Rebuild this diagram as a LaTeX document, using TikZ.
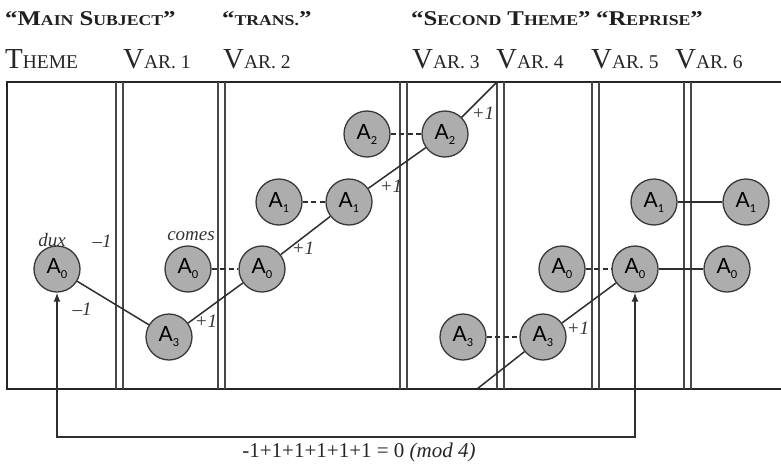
\documentclass[tikz,border=0pt]{standalone}
\usepackage{fontspec}
\setmainfont{Liberation Serif}
\newfontfamily\notefont{Lato}
\usetikzlibrary{arrows.meta}

% A pitch level inside a circle: letter A with a small index
\newcommand\pitch[1]{A\raisebox{-5pt}{\fontsize{11}{11}\selectfont #1}}
% Hand-made small capitals: large initial, smaller rest
\newcommand\headcap[2]{{\fontsize{21}{21}\selectfont #1}{\fontsize{15}{15}\selectfont #2}}
\newcommand\headquote[1]{\scalebox{1.18}[1]{\fontsize{21}{21}\selectfont “#1\fontsize{21}{21}\selectfont ”}}
\newcommand\rowcap[2]{{\fontsize{29}{29}\selectfont #1}{\fontsize{19.5}{19.5}\selectfont #2}}

\tikzset{
  x=1pt, y=-1pt,
  notecirc/.style={circle, draw=black!78, fill=black!32, line width=1.3pt,
    minimum size=46pt, inner sep=0pt, font=\notefont\fontsize{21}{21}\selectfont},
  linkline/.style={draw=black!82, line width=1.5pt},
  echoline/.style={linkline, dash pattern=on 5pt off 3.5pt},
  barline/.style={draw=black!72, line width=1.4pt},
  frameline/.style={draw=black!85, line width=2.8pt},
  steplabel/.style={font=\itshape\fontsize{19}{19}\selectfont, inner sep=0pt, text=black!80},
  sectionhead/.style={anchor=base west, inner sep=0pt, font=\bfseries, text=black!88},
  parthead/.style={anchor=base west, inner sep=0pt, text=black!85},
  loopback/.style={linkline, >={Latex[length=9pt, width=7pt]}, <->}
}

\begin{document}
\begin{tikzpicture}
\useasboundingbox (0,0) rectangle (781,466);

% section headings
\node[sectionhead] (hmain) at (5,25) {\headquote{\headcap{M}{AIN} \headcap{S}{UBJECT}}};
\node[sectionhead] (htrans) at (222,25) {\headquote{\headcap{}{TRANS.}}};
\node[sectionhead] (hsecond) at (411,25) {\headquote{\headcap{S}{ECOND} \headcap{T}{HEME}}};
\node[sectionhead] (hreprise) at (596,25) {\headquote{\headcap{R}{EPRISE}}};

% variation headings
\node[parthead] (ptheme) at (5,68) {\rowcap{T}{HEME}};
\node[parthead] (pv1) at (123,68) {\rowcap{V}{AR. 1}};
\node[parthead] (pv2) at (223,68) {\rowcap{V}{AR. 2}};
\node[parthead] (pv3) at (412,68) {\rowcap{V}{AR. 3}};
\node[parthead] (pv4) at (496,68) {\rowcap{V}{AR. 4}};
\node[parthead] (pv5) at (591,68) {\rowcap{V}{AR. 5}};
\node[parthead] (pv6) at (675,68) {\rowcap{V}{AR. 6}};

% frame: top, bottom and left border
\draw[frameline] (781,82) -- (7,82) -- (7,389) -- (781,389);

% double bars between variations
\foreach \bx in {116,218,400,497,592,684} {
  \draw[barline] (\bx,82) -- (\bx,389);
  \draw[barline] (\bx+7,82) -- (\bx+7,389);
}

% pitch circles
\node[notecirc] (dux) at (57,269) {\pitch{0}};
\node[notecirc] (a3) at (169,337) {\pitch{3}};
\node[notecirc] (c0) at (188,269) {\pitch{0}};
\node[notecirc] (b0) at (262,269) {\pitch{0}};
\node[notecirc] (b1l) at (279,202) {\pitch{1}};
\node[notecirc] (b1) at (349,202) {\pitch{1}};
\node[notecirc] (c2l) at (367,134) {\pitch{2}};
\node[notecirc] (c2) at (445,134) {\pitch{2}};
\node[notecirc] (d3l) at (463,337) {\pitch{3}};
\node[notecirc] (d3) at (543,337) {\pitch{3}};
\node[notecirc] (e0l) at (562,269) {\pitch{0}};
\node[notecirc] (e0) at (635,269) {\pitch{0}};
\node[notecirc] (f0) at (727,269) {\pitch{0}};
\node[notecirc] (e1) at (654,202) {\pitch{1}};
\node[notecirc] (f1) at (746,202) {\pitch{1}};

% wrap-around points on the frame
\coordinate (rise) at (497,82);
\coordinate (reentry) at (477,389);
\coordinate (loopbase) at (57,437);

% transposition path
\draw[linkline] (dux) -- (a3);
\draw[linkline] (a3) -- (b0);
\draw[linkline] (b0) -- (b1);
\draw[linkline] (b1) -- (c2);
\draw[linkline] (c2) -- (rise);
\draw[linkline] (reentry) -- (d3);
\draw[linkline] (d3) -- (e0);
\draw[linkline] (e0) -- (f0);
\draw[linkline] (e1) -- (f1);

% imitations at the same level
\draw[echoline] (c0) -- (b0);
\draw[echoline] (b1l) -- (b1);
\draw[echoline] (c2l) -- (c2);
\draw[echoline] (d3l) -- (d3);
\draw[echoline] (e0l) -- (e0);

% return to the starting level
\draw[loopback] (dux.south) -- (loopbase) -| (e0.south);

% step labels
\node[steplabel] (ldux) at (52,240) {dux};
\node[steplabel] (lm1a) at (102,241) {–1};
\node[steplabel] (lm1b) at (82,309) {–1};
\node[steplabel] (lcomes) at (191,236) {comes};
\node[steplabel] (lp1a) at (206,321) {+1};
\node[steplabel] (lp1b) at (303,248) {+1};
\node[steplabel] (lp1c) at (391,186) {+1};
\node[steplabel] (lp1d) at (483,113) {+1};
\node[steplabel] (lp1e) at (578,328) {+1};

% sum of steps
\node[anchor=base, inner sep=0pt, font=\fontsize{21}{21}\selectfont, text=black!85] (sum) at (359,457)
  {-1+1+1+1+1+1 = 0 \textit{(mod 4)}};
\end{tikzpicture}
\end{document}
